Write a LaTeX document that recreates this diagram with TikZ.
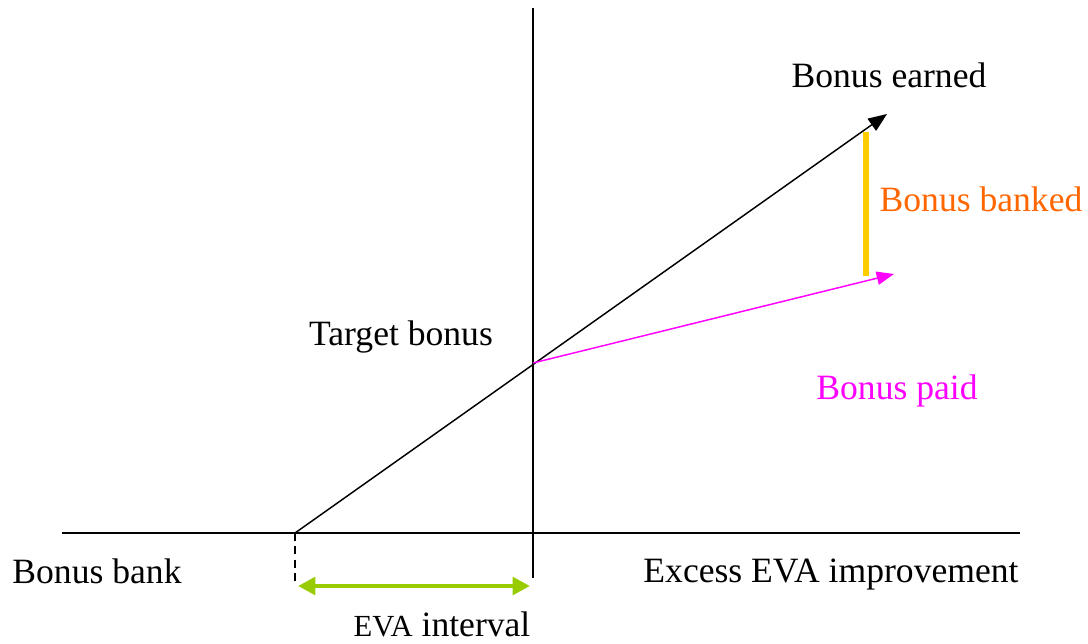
\documentclass[tikz,border=0pt]{standalone}
\usepackage{fontspec}
\setmainfont{Liberation Serif}
\usetikzlibrary{arrows.meta}
\definecolor{mag}{RGB}{255,0,255}
\definecolor{gold}{RGB}{255,204,0}
\definecolor{orng}{RGB}{255,102,0}
\definecolor{lime}{RGB}{153,204,0}
\begin{document}
\begin{tikzpicture}[x=0.75pt,y=-0.75pt,
  lbl/.style={inner sep=0pt,font=\fontsize{26.7}{30}\selectfont},
  axis/.style={line width=1.1pt},
  tipb/.style={-{Triangle[length=14pt,width=11pt]}}]
\useasboundingbox (0,0) rectangle (1088,643);
% coordinates
\coordinate (vtop) at (533,8);
\coordinate (vbot) at (533,578);
\coordinate (hl) at (62,533);
\coordinate (hr) at (1020,533);
\coordinate (start) at (295,533);
\coordinate (dash) at (295,582);
\coordinate (earned) at (887,114);
\coordinate (target) at (533,363);
\coordinate (paid) at (894,274);
\coordinate (banktop) at (866,132);
\coordinate (bankbot) at (866,276);
\coordinate (gl) at (298,586);
\coordinate (gr) at (530,586);
% axes
\draw[axis] (vtop) -- (vbot);
\draw[axis] (hl) -- (hr);
% lines
\draw[axis,tipb] (start) -- (earned);
\draw[axis,dashed,dash pattern=on 6pt off 4pt] (start) -- (dash);
\draw[mag,line width=1.1pt,-{Triangle[length=13pt,width=10pt]}] (target) -- (paid);
\draw[gold,line width=5pt] (banktop) -- (bankbot);
\draw[lime,line width=3.5pt,{Triangle[length=13pt,width=13pt]}-{Triangle[length=13pt,width=13pt]}] (gl) -- (gr);
% labels
\node[lbl] (tearned) at (889,75) {Bonus earned};
\node[lbl,text=orng] (tbanked) at (981,199) {Bonus banked};
\node[lbl] (ttarget) at (401,337) {Target bonus};
\node[lbl,text=mag] (tpaid) at (897,391) {Bonus paid};
\node[lbl] (tbank) at (97,571) {Bonus bank};
\node[lbl] (texcess) at (831,574) {Excess EVA improvement};
\node[lbl] (tinterval) at (442,624) {{\fontsize{23}{27}\selectfont EVA} interval};
\end{tikzpicture}
\end{document}
